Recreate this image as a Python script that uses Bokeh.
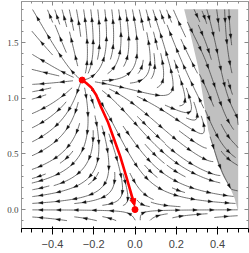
import math
import numpy as np
from bokeh.plotting import figure
from bokeh.models import FixedTicker, LinearAxis, Range1d, Label
from bokeh.embed import file_html
from bokeh.resources import INLINE

# ---------------- values ----------------
lam_domain = [-0.5, 0.5]            # region covered by stream lines
g_domain = [-0.1, 1.8]
ngfp = [-0.256, 1.164]              # non-Gaussian fixed point (red dot)
gfp = [0.0, 0.0]                    # Gaussian fixed point (red dot)
sep_lam = [-0.256, -0.235, -0.212, -0.188, -0.164, -0.132, -0.100, -0.072, -0.044, -0.023, -0.004]
sep_g = [1.164, 1.135, 1.098, 1.030, 0.920, 0.790, 0.625, 0.480, 0.307, 0.173, 0.050]
bnd_lam = [0.238, 0.272, 0.306, 0.335, 0.355, 0.380, 0.403, 0.430, 0.460, 0.483, 0.497]
bnd_g = [1.80, 1.55, 1.28, 0.95, 0.71, 0.55, 0.40, 0.29, 0.20, 0.10, 0.00]
gray_right = 0.5
x_major = [-0.4, -0.2, 0.0, 0.2, 0.4]
x_labels = ["\u22120.4", "\u22120.2", "0.0", "0.2", "0.4"]
y_major = [0.0, 0.5, 1.0, 1.5]
y_labels = ["0.0", "0.5", "1.0", "1.5"]
x_minor = [round(v, 2) for v in np.arange(-0.55, 0.551, 0.05)]
y_minor = [round(v, 2) for v in np.arange(-0.1, 1.81, 0.1)]
x_title = "\u03bb"
y_title = "g"

# ---------------- plot geometry ----------------
X0, X1 = -0.55, 0.55
Y0, Y1 = -0.17, 1.87
BL, BR, BT, BB = 21, 1, 1, 25
PW, PH = 249, 253
FW, FH = PW - BL - BR, PH - BT - BB
SX = FW / (X1 - X0)
SY = FH / (Y1 - Y0)

# ---------------- flow model (beta functions, IR direction) ----------------
B1_slope = 0.45
c_eta = 0.2
F_quad = 2.0
ext_slope = (bnd_g[1] - bnd_g[0]) / (bnd_lam[1] - bnd_lam[0])


def pole_g(lam):
    if lam <= bnd_lam[0]:
        return bnd_g[0] + ext_slope * (lam - bnd_lam[0])
    return max(float(np.interp(lam, bnd_lam, bnd_g)), 1e-4)


F0 = 4.0 * (sep_lam[-1] - sep_lam[-2]) / (sep_g[-1] - sep_g[-2])
ls, gs = ngfp
u_s = 1.0 / (1.0 - 2.0 * ls)
D_s = 1.0 - gs / pole_g(ls)
b0 = -2.0 * D_s / gs - B1_slope * ls
k1 = (4.0 * ls / gs - F0 - F_quad * ls * ls - 2.0 * c_eta * u_s) / ls


def vel(x, y):
    lam = lam_domain[0] + x / SX
    g = g_domain[0] + y / SY
    D = 1.0 - g / pole_g(lam)
    if D == 0.0:
        D = 1e-9
    u = 1.0 / max(1.0 - 2.0 * lam, 1e-3)
    B1 = b0 + B1_slope * lam
    eta = g * B1 / D
    F = F0 + k1 * lam + F_quad * lam * lam - c_eta * eta * u
    vx = ((2.0 - eta) * lam - g * F) * SX
    vy = (-(2.0 + eta) * g) * SY
    n = math.hypot(vx, vy)
    if n < 1e-12:
        return 0.0, 0.0, D
    return vx / n, vy / n, D


W = (lam_domain[1] - lam_domain[0]) * SX
H = (g_domain[1] - g_domain[0]) * SY
CELL = 7.0
NX = int(math.ceil(W / CELL))
NY = int(math.ceil(H / CELL))
occ = np.zeros((NY, NX), dtype=bool)
fps = [((ngfp[0] - lam_domain[0]) * SX, (ngfp[1] - g_domain[0]) * SY),
       ((gfp[0] - lam_domain[0]) * SX, (gfp[1] - g_domain[0]) * SY)]
STEP = 0.6


def integrate(x, y, sgn, cur, visited):
    pts = []
    _, _, D0 = vel(x, y)
    pos = D0 > 0
    length = 0.0
    while length < 800:
        ax, ay, _ = vel(x, y)
        if ax == 0.0 and ay == 0.0:
            break
        mx, my = x + 0.5 * STEP * sgn * ax, y + 0.5 * STEP * sgn * ay
        bx, by, Dm = vel(mx, my)
        if (Dm > 0) != pos:
            break
        xn, yn = x + STEP * sgn * bx, y + STEP * sgn * by
        if xn < 0 or xn > W or yn < 0 or yn > H:
            break
        _, _, Dn = vel(xn, yn)
        if (Dn > 0) != pos:
            break
        if min(math.hypot(xn - fx, yn - fy) for fx, fy in fps) < 2.0:
            break
        c = (min(int(yn / CELL), NY - 1), min(int(xn / CELL), NX - 1))
        if c != cur:
            if occ[c]:
                break
            occ[c] = True
            visited.append(c)
            cur = c
        x, y = xn, yn
        pts.append((x, y))
        length += STEP
    return pts


def spiral(nx, ny):
    xfirst, yfirst, xlast, ylast = 0, 1, nx - 1, ny - 1
    x, y, d = 0, 0, "right"
    for _ in range(nx * ny):
        yield x, y
        if d == "right":
            x += 1
            if x >= xlast:
                xlast -= 1
                d = "up"
        elif d == "up":
            y += 1
            if y >= ylast:
                ylast -= 1
                d = "left"
        elif d == "left":
            x -= 1
            if x <= xfirst:
                xfirst += 1
                d = "down"
        else:
            y -= 1
            if y <= yfirst:
                yfirst += 1
                d = "right"


streams = []
for ci, cj in spiral(NX, NY):
    if occ[cj, ci]:
        continue
    sx0, sy0 = (ci + 0.5) * CELL, (cj + 0.5) * CELL
    if sx0 > W or sy0 > H:
        continue
    occ[cj, ci] = True
    visited = [(cj, ci)]
    back = integrate(sx0, sy0, -1, (cj, ci), visited)
    fwd = integrate(sx0, sy0, 1, (cj, ci), visited)
    pts = back[::-1] + [(sx0, sy0)] + fwd
    if len(pts) * STEP < 14:
        for c in visited:
            occ[c] = False
        continue
    streams.append(pts)


def to_data(x, y):
    return lam_domain[0] + x / SX, g_domain[0] + y / SY


line_xs, line_ys = [], []
arr_xs, arr_ys = [], []
AL, AW = 2.2, 1.5
SPACING = 17.0
for pts in streams:
    a = np.array(pts)
    seg = np.hypot(np.diff(a[:, 0]), np.diff(a[:, 1]))
    s = np.concatenate([[0.0], np.cumsum(seg)])
    L = s[-1]
    sub = a[::3]
    if len(a) % 3 != 1:
        sub = np.vstack([sub, a[-1]])
    lx, ly = to_data(sub[:, 0], sub[:, 1])
    line_xs.append(list(lx))
    line_ys.append(list(ly))
    n_arr = max(1, int(L / SPACING))
    for k in range(n_arr):
        sa = (k + 0.5) * L / n_arr
        i = int(np.searchsorted(s, sa))
        i = min(max(i, 1), len(a) - 1)
        i0 = max(i - 3, 0)
        i1 = min(i + 3, len(a) - 1)
        tx, ty = a[i1] - a[i0]
        tn = math.hypot(tx, ty)
        if tn == 0:
            continue
        tx, ty = tx / tn, ty / tn
        px, py = a[i]
        tip = (px + AL * tx, py + AL * ty)
        bl = (px - AL * tx - AW * ty, py - AL * ty + AW * tx)
        br = (px - AL * tx + AW * ty, py - AL * ty - AW * tx)
        xs_, ys_ = zip(*[to_data(*q) for q in (tip, bl, br)])
        arr_xs.append(list(xs_))
        arr_ys.append(list(ys_))

# ---------------- figure ----------------
p = figure(width=PW, height=PH, x_range=Range1d(X0, X1), y_range=Range1d(Y0, Y1),
           output_backend="svg", toolbar_location=None,
           min_border_left=BL, min_border_right=BR, min_border_top=BT, min_border_bottom=BB)
p.grid.visible = False
p.outline_line_color = "#999999"
p.outline_line_width = 1
p.background_fill_color = "white"
p.border_fill_color = "white"

# gray region
p.patch(x=bnd_lam + [gray_right, gray_right], y=bnd_g + [bnd_g[-1], bnd_g[0]],
        fill_color="#c0c0c0", line_color=None)

# stream lines and arrow heads
p.multi_line(xs=line_xs, ys=line_ys, line_color="#333333", line_width=0.7)
p.patches(xs=arr_xs, ys=arr_ys, fill_color="#111111", line_color="#111111", line_width=0.3)

# red separatrix with arrow and fixed points
p.line(sep_lam, sep_g, line_color="#ff0000", line_width=2.6)
tx = (sep_lam[-1] - sep_lam[-2]) * SX
ty = (sep_g[-1] - sep_g[-2]) * SY
tn = math.hypot(tx, ty)
tx, ty = tx / tn, ty / tn
ex, ey = (sep_lam[-1] - lam_domain[0]) * SX, (sep_g[-1] - g_domain[0]) * SY
red_tri = [(ex + 2 * tx, ey + 2 * ty), (ex - 5 * tx - 3 * ty, ey - 5 * ty + 3 * tx),
           (ex - 5 * tx + 3 * ty, ey - 5 * ty - 3 * tx)]
rx, ry = zip(*[to_data(*q) for q in red_tri])
p.patch(x=list(rx), y=list(ry), fill_color="#ff0000", line_color="#ff0000")
p.scatter(x=[ngfp[0], gfp[0]], y=[ngfp[1], gfp[1]], size=6, fill_color="#ff0000", line_color="#ff0000")

# axes
p.xaxis.ticker = FixedTicker(ticks=x_major, minor_ticks=x_minor)
p.yaxis.ticker = FixedTicker(ticks=y_major, minor_ticks=y_minor)
p.xaxis.major_label_overrides = dict(zip(x_major, x_labels))
p.yaxis.major_label_overrides = dict(zip(y_major, y_labels))
top = LinearAxis(ticker=FixedTicker(ticks=x_major, minor_ticks=x_minor))
right = LinearAxis(ticker=FixedTicker(ticks=y_major, minor_ticks=y_minor))
top.major_label_overrides = {t: "" for t in x_major}
right.major_label_overrides = {t: "" for t in y_major}
p.add_layout(top, "above")
p.add_layout(right, "right")
for ax in [p.xaxis[0], p.yaxis[0], top, right]:
    ax.major_tick_in = 4
    ax.major_tick_out = 0
    ax.minor_tick_in = 2
    ax.minor_tick_out = 0
    ax.major_tick_line_color = "#888888"
    ax.minor_tick_line_color = "#888888"
    ax.axis_line_color = None
    ax.major_label_text_font = "Liberation Serif"
    ax.major_label_text_font_size = "9px"
    ax.major_label_text_color = "#444444"
    ax.major_label_standoff = 3
for ax in [top, right]:
    ax.major_label_text_font_size = "0px"
    ax.major_label_text_alpha = 0
    ax.major_label_standoff = 0

# axis titles as labels just outside the frame
p.add_layout(Label(x=0.0, y=Y0 - 20.0 / SY, text=x_title, text_align="center", text_baseline="middle",
                   text_font="Liberation Serif", text_font_size="10px", text_color="#444444"))
p.add_layout(Label(x=X0 - 16.0 / SX, y=(Y0 + Y1) / 2, text=y_title, text_align="center",
                   text_baseline="middle", text_font="Liberation Serif", text_font_size="10px",
                   text_color="#444444"))

open("out.html", "w").write(file_html(p, INLINE))
